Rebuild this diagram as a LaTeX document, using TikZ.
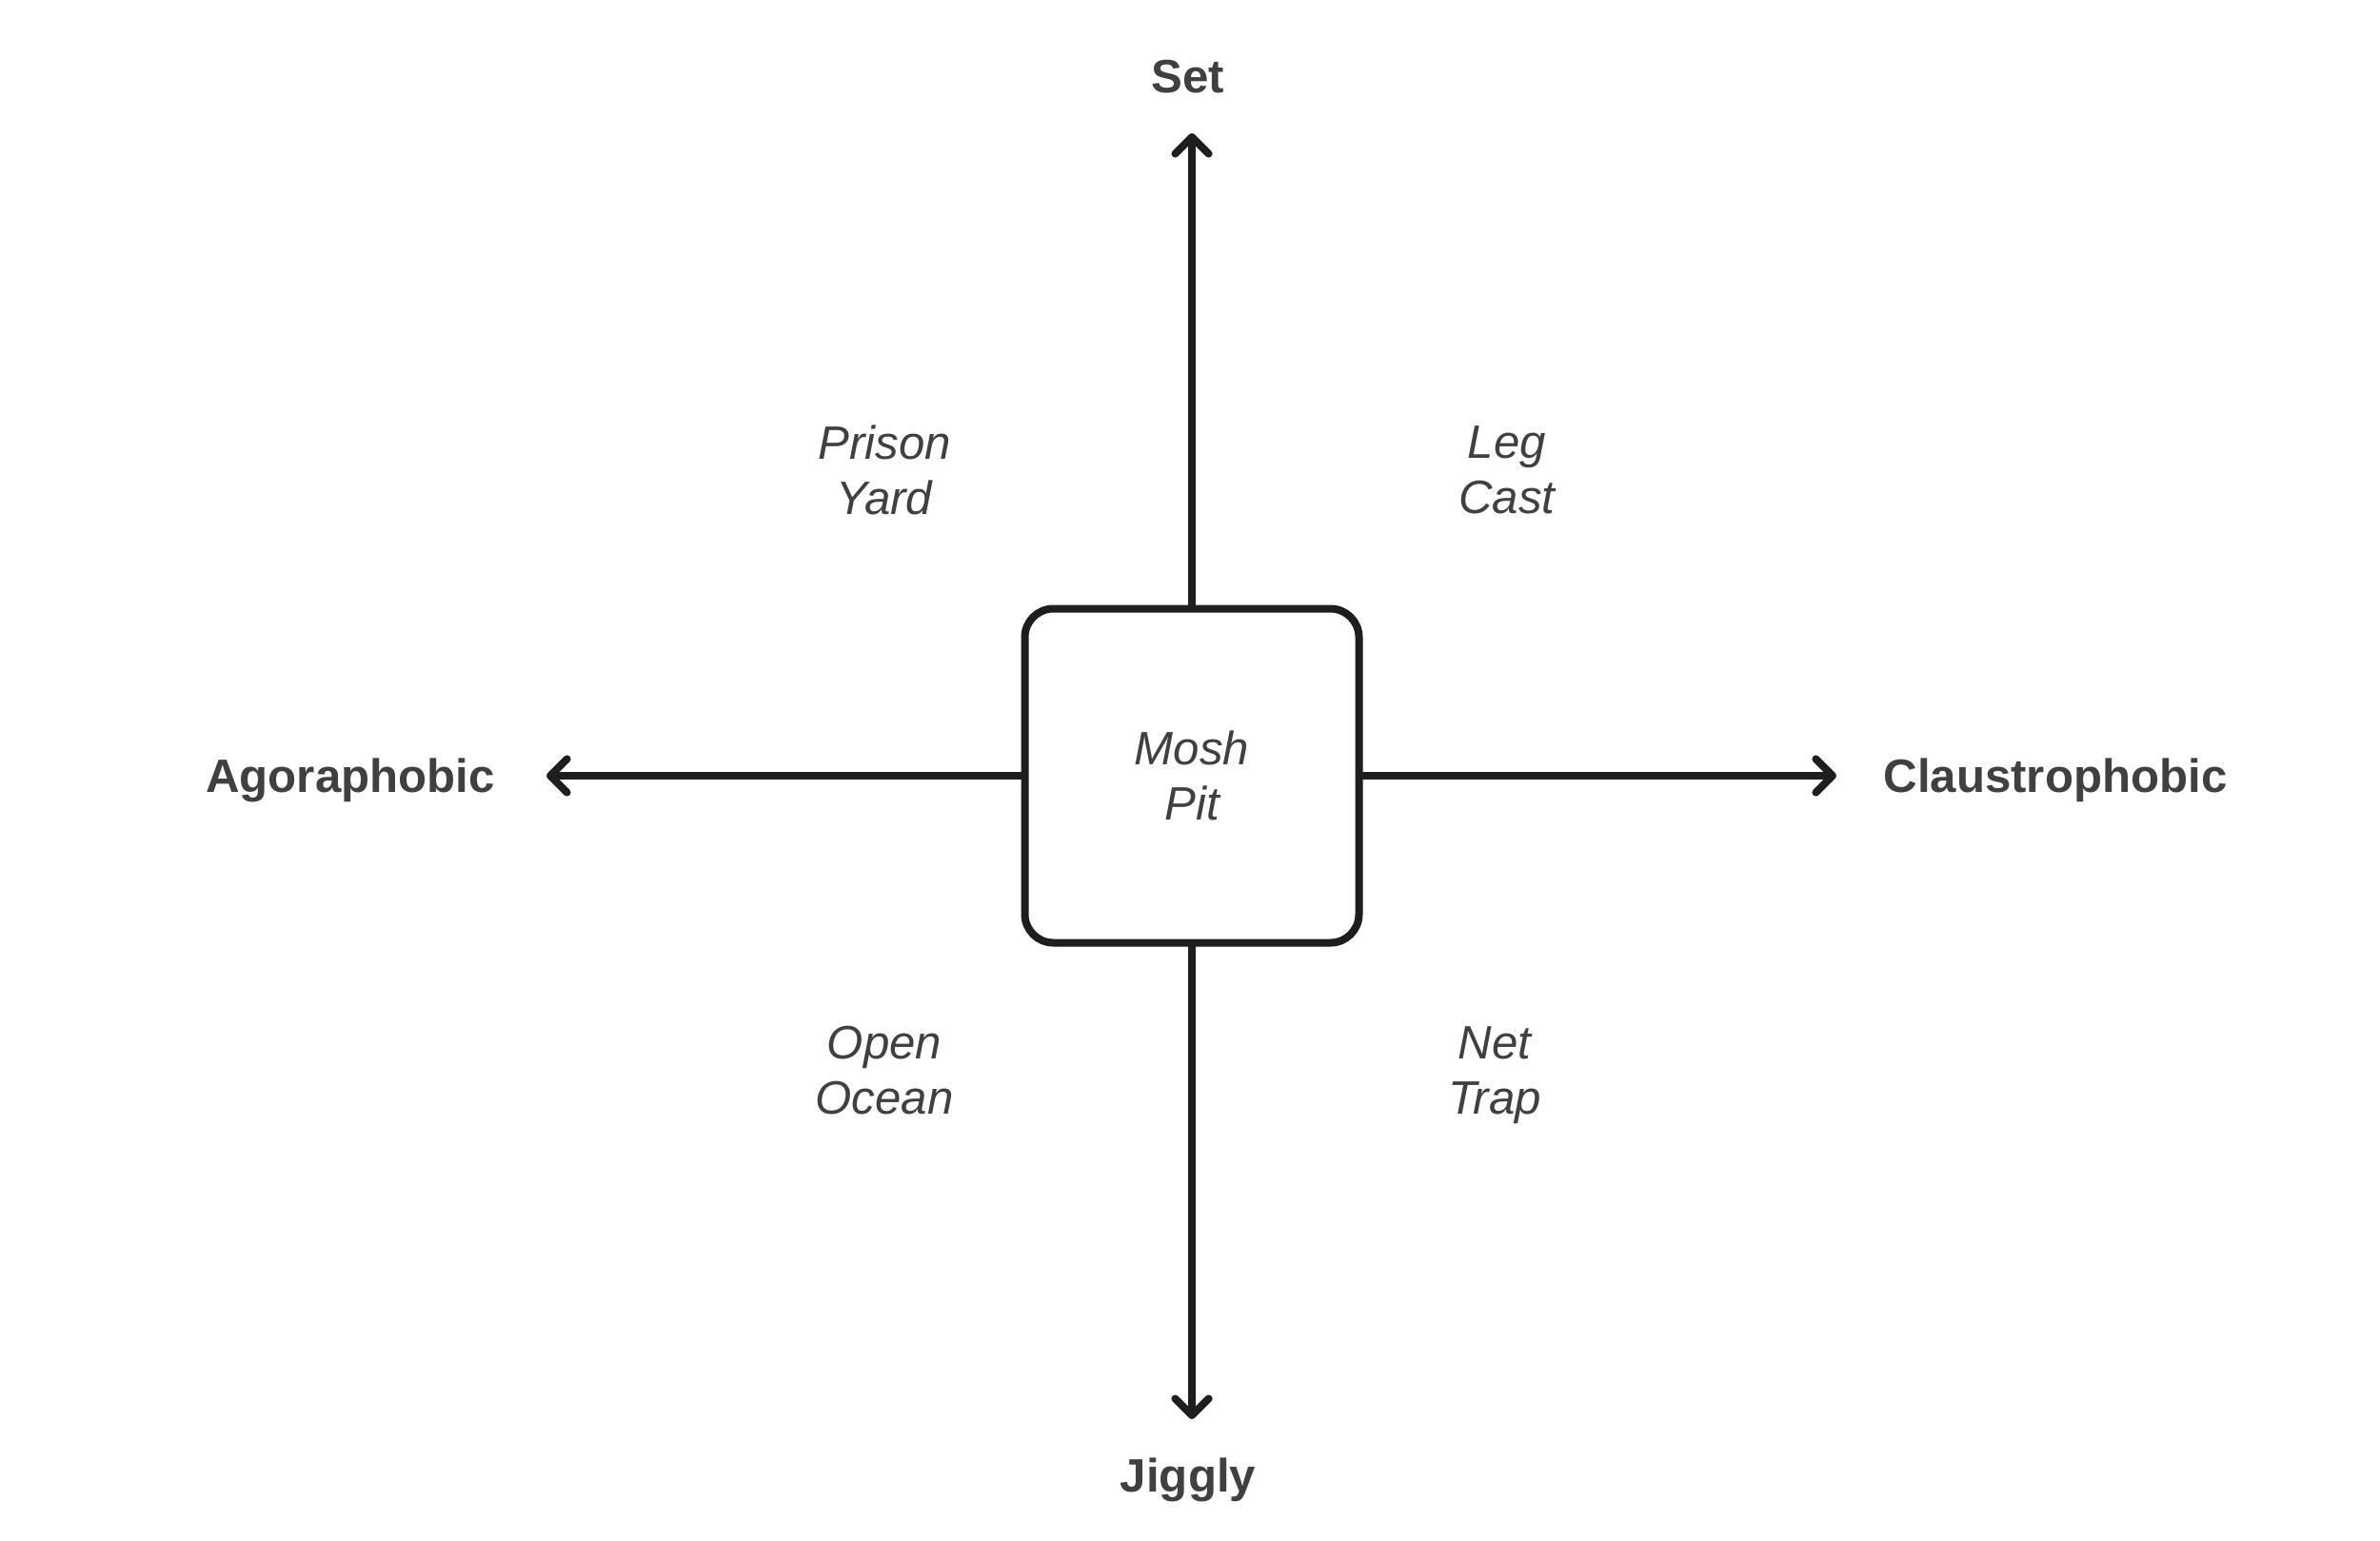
\documentclass[tikz,border=0pt]{standalone}
\usepackage{fontspec}
\setmainfont{Liberation Sans}
\usetikzlibrary{arrows.meta}
\definecolor{inkline}{HTML}{1E1E1E}
\definecolor{inktext}{HTML}{404040}
\tikzset{
    axisarrow/.style={draw=inkline, line width=0.08cm, line cap=round,
        -{Straight Barb[length=5pt, width=10pt, line cap=round, line join=round]}},
    axislabel/.style={text=inktext, font=\fontsize{14}{16.5}\selectfont\bfseries},
    quadlabel/.style={text=inktext, font=\fontsize{14}{16.5}\selectfont\itshape, align=center},
    pitbox/.style={draw=inkline, line width=0.08cm, rounded corners=0.3cm,
        minimum width=3.51cm, minimum height=3.51cm, fill=white}
}
\begin{document}
\begin{tikzpicture}
    \useasboundingbox[fill=white] (0,0) rectangle (25,16.18);

    % Centre box
    \node[pitbox, quadlabel] (pit) at (12.52,8.03) {Mosh\\Pit};

    % Axis ends
    \coordinate (topend) at (12.52,14.78);
    \coordinate (botend) at (12.52,1.27);
    \coordinate (leftend) at (5.74,8.03);
    \coordinate (rightend) at (19.29,8.03);

    % Axes
    \draw[axisarrow] (pit.north) -- (topend);
    \draw[axisarrow] (pit.south) -- (botend);
    \draw[axisarrow] (pit.west) -- (leftend);
    \draw[axisarrow] (pit.east) -- (rightend);

    % Axis labels
    \node[axislabel] (set) at (12.48,15.37) {Set};
    \node[axislabel] (jiggly) at (12.48,0.63) {Jiggly};
    \node[axislabel] (agora) at (3.68,7.98) {Agoraphobic};
    \node[axislabel] (claus) at (21.59,7.98) {Claustrophobic};

    % Quadrants
    \node[quadlabel] (prison) at (9.29,11.24) {Prison\\Yard};
    \node[quadlabel] (leg) at (15.83,11.24) {Leg\\Cast};
    \node[quadlabel] (ocean) at (9.29,4.93) {Open\\Ocean};
    \node[quadlabel] (net) at (15.70,4.88) {Net\\Trap};
\end{tikzpicture}
\end{document}
